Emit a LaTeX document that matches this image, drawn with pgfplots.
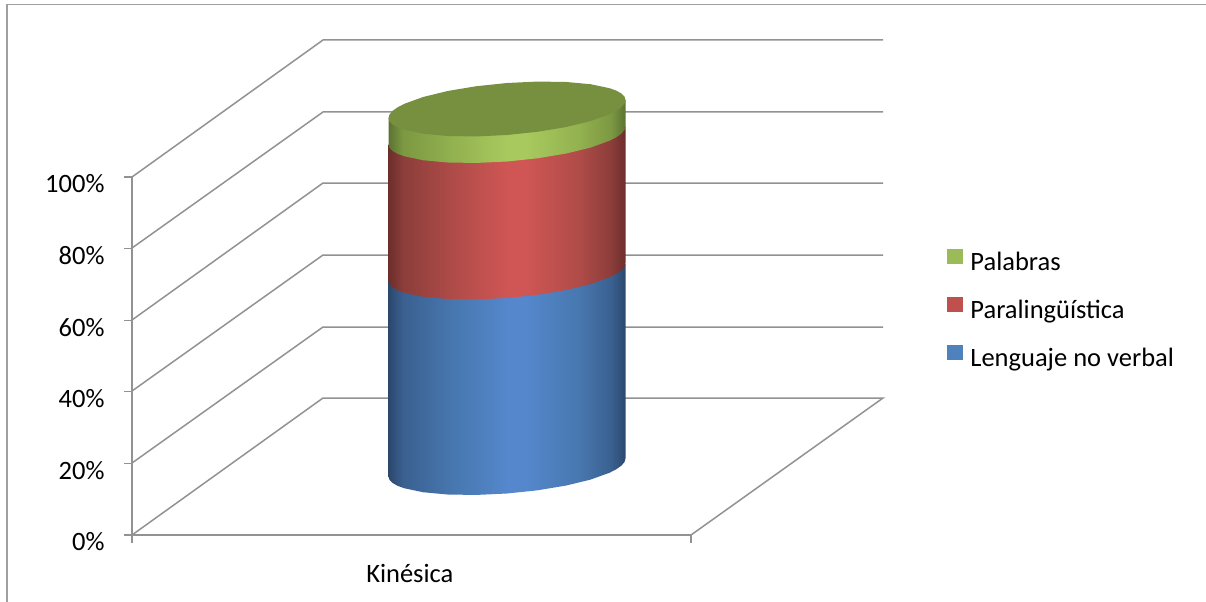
\documentclass[border=0pt]{standalone}
\usepackage{pgfplots}
\usepackage{fontspec}
\setmainfont{Carlito}
\pgfplotsset{compat=1.18}

\definecolor{gridc}{HTML}{929292}
\definecolor{framec}{HTML}{A0A0A0}
\definecolor{bl0}{HTML}{2C486C}
\definecolor{bl1}{HTML}{3A6090}
\definecolor{bl2}{HTML}{4878B0}
\definecolor{bl3}{HTML}{5487CC}
\definecolor{rd0}{HTML}{6C2D2B}
\definecolor{rd1}{HTML}{8C3D3A}
\definecolor{rd2}{HTML}{B04C49}
\definecolor{rd3}{HTML}{CF5654}
\definecolor{gr0}{HTML}{5C7232}
\definecolor{gr1}{HTML}{7C9842}
\definecolor{gr2}{HTML}{93B250}
\definecolor{gr3}{HTML}{A8C95E}
\definecolor{capc}{HTML}{76903F}

\pgfdeclarehorizontalshading{bluecyl}{100bp}{color(0bp)=(bl0); color(25bp)=(bl0); color(28bp)=(bl1); color(39bp)=(bl2); color(50bp)=(bl3); color(54bp)=(bl3); color(65bp)=(bl2); color(72bp)=(bl1); color(75bp)=(bl0); color(100bp)=(bl0)}
\pgfdeclarehorizontalshading{redcyl}{100bp}{color(0bp)=(rd0); color(25bp)=(rd0); color(28bp)=(rd1); color(39bp)=(rd2); color(50bp)=(rd3); color(54bp)=(rd3); color(65bp)=(rd2); color(72bp)=(rd1); color(75bp)=(rd0); color(100bp)=(rd0)}
\pgfdeclarehorizontalshading{greencyl}{100bp}{color(0bp)=(gr0); color(25bp)=(gr0); color(28bp)=(gr1); color(39bp)=(gr2); color(50bp)=(gr3); color(54bp)=(gr3); color(65bp)=(gr2); color(72bp)=(gr1); color(75bp)=(gr0); color(100bp)=(gr0)}

\begin{document}
\begin{tikzpicture}
\path[use as bounding box] (0bp,0bp) rectangle (1206bp,602bp);
% pixel-sized layer: frame, walls, cylinder, legend
\begin{axis}[
    at={(0bp,0bp)}, anchor=south west,
    scale only axis, width=1206bp, height=602bp,
    xmin=0, xmax=1206, ymin=0, ymax=602, y dir=reverse,
    hide axis, no markers,
    legend style={at={(axis cs:947,249)}, anchor=north west, draw=none, fill=none,
        font=\fontsize{26.6}{28}\selectfont, row sep=21bp,
        inner sep=0pt, nodes={inner sep=0pt, outer sep=0pt, text height=18bp, text depth=6bp, anchor=base west}},
    legend cell align=left,
    legend image code/.code={\fill[draw=none,#1] (0bp,6bp) rectangle (16bp,21bp); \path (23bp,6bp);},
]
\addlegendimage{fill={rgb,255:red,155;green,187;blue,89}}
\addlegendimage{fill={rgb,255:red,192;green,80;blue,77}}
\addlegendimage{fill={rgb,255:red,79;green,129;blue,189}}
\legend{Palabras,Paralingüística,Lenguaje no verbal}

% frame
\addplot[framec, line width=1.6bp] coordinates {(7,602)(7,4.5)(1206,4.5)};

% walls
\addplot[gridc, line width=1.5bp] coordinates {(132,535)(323,398)(883,398)(691,535)};
\addplot[gridc, line width=1.5bp] coordinates {(132,463)(323,327)(883,327)};
\addplot[gridc, line width=1.5bp] coordinates {(132,391)(323,255)(883,255)};
\addplot[gridc, line width=1.5bp] coordinates {(132,320)(323,183)(883,183)};
\addplot[gridc, line width=1.5bp] coordinates {(132,248)(323,112)(883,112)};
\addplot[gridc, line width=1.5bp] coordinates {(132,177)(323,40)(883,40)};

% cylinder, bottom segment first
\addplot[draw=none, shade, shading=bluecyl] coordinates {
    (388.5,282)(625.5,264)(625.5,458.5)(624.5,461.97)(621.5,465.54)(616.5,469.13)(609.6,472.71)
    (590.8,479.52)(566.25,485.52)(537.7,490.28)(507,493.5)(476.3,494.94)(447.75,494.52)
    (423.2,492.25)(404.4,488.29)(397.5,485.77)(392.5,482.92)(389.5,479.81)(388.5,476.5)} --cycle;
\addplot[draw=none, shade, shading=redcyl] coordinates {
    (388.5,144.5)(625.5,126.5)(625.5,263)(624.5,266.47)(621.5,270.04)(616.5,273.63)(609.6,277.21)
    (590.8,284.02)(566.25,290.02)(537.7,294.78)(507,298)(476.3,299.44)(447.75,299.02)
    (423.2,296.75)(404.4,292.79)(397.5,290.27)(392.5,287.42)(389.5,284.31)(388.5,281)} --cycle;
\addplot[draw=none, shade, shading=greencyl] coordinates {
    (388.5,118)(625.5,100)(625.5,126.5)(624.5,129.97)(621.5,133.54)(616.5,137.13)(609.6,140.71)
    (590.8,147.52)(566.25,153.52)(537.7,158.28)(507,161.5)(476.3,162.94)(447.75,162.52)
    (423.2,160.25)(404.4,156.29)(397.5,153.77)(392.5,150.92)(389.5,147.81)(388.5,144.5)} --cycle;
\addplot[draw=none, fill=capc] coordinates {
    (625.5,100)(624.5,96.69)(621.5,93.58)(616.5,90.73)(609.6,88.21)(590.8,84.25)(566.25,81.98)
    (537.7,81.56)(507,83)(476.3,86.22)(447.75,90.98)(423.2,96.98)(404.4,103.79)(397.5,107.37)
    (392.5,110.96)(389.5,114.53)(388.5,118)(389.5,121.31)(392.5,124.42)(397.5,127.27)
    (404.4,129.79)(423.2,133.75)(447.75,136.02)(476.3,136.44)(507,135)(537.7,131.78)
    (566.25,127.02)(590.8,121.02)(609.6,114.21)(616.5,110.63)(621.5,107.04)(624.5,103.47)} --cycle;
\end{axis}

% the front axes with their ticks and labels
\begin{axis}[
    at={(132bp,67bp)}, anchor=south west,
    scale only axis, width=559bp, height=358bp,
    xmin=0, xmax=1, ymin=0, ymax=100,
    axis lines=left, axis line style={-, gridc, line width=1.5bp},
    tick style={gridc, line width=1.2bp},
    tick align=outside, major tick length=8bp,
    xtick={0,1}, xticklabels={,},
    ytick={0,20,40,60,80,100},
    yticklabels={0\%,20\%,40\%,60\%,80\%,100\%},
    yticklabel style={font=\fontsize{26.6}{28}\selectfont, yshift=-7bp, xshift=-16bp},
    xlabel={Kinésica},
    xlabel style={font=\fontsize{26.6}{28}\selectfont, at={(axis description cs:0.497,0)},
        anchor=base, yshift=-48bp},
]
\end{axis}
\end{tikzpicture}
\end{document}
